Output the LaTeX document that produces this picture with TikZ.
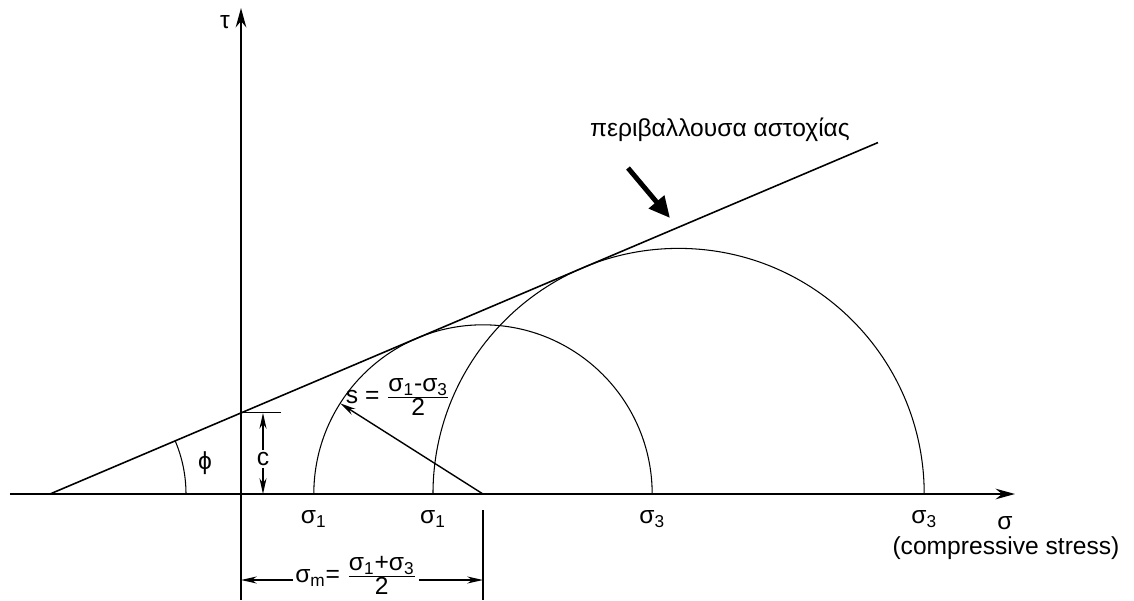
\documentclass[tikz,border=0pt]{standalone}
\usepackage{fontspec}
\setmainfont{Liberation Sans}
\usetikzlibrary{arrows.meta,calc}
\newcommand{\sg}[1]{σ\textsubscript{#1}}
\tikzset{
  axis/.style={line width=1.2pt,-{Stealth[length=11pt,width=6pt]}},
  env/.style={line width=0.9pt},
  mohr/.style={line width=0.6pt},
  dim/.style={line width=0.8pt,-{Stealth[length=9pt,width=4pt]}},
  bigarrow/.style={line width=2.8pt,-{Triangle[length=12pt,width=11pt]}},
  lbl/.style={font=\fontsize{14}{16}\selectfont,inner sep=1pt},
}
\begin{document}
\begin{tikzpicture}
\useasboundingbox (-4.82,-2.12) rectangle (17.86,9.88);
\pgfmathsetmacro\cc{3.82*tan(23)}
\pgfmathsetmacro\ra{sin(23)*(4.84+3.82)}
\pgfmathsetmacro\rb{sin(23)*(8.752+3.82)}
% axes
\coordinate (xs) at (-4.62,0); \coordinate (xe) at (15.48,0);
\coordinate (ys) at (0,-2.12); \coordinate (ye) at (0,9.72);
\draw[axis] (xs) -- (xe);
\draw[axis] (ys) -- (ye);
\node[lbl] (tau) at (-0.32,9.44) {τ};
\node[lbl] (sig) at (15.28,-0.58) {σ};
\node[lbl] (comp) at (15.3,-1.08) {(compressive stress)};
% failure envelope
\coordinate (F0) at (-3.82,0);
\coordinate (F1) at (12.74,{(12.74+3.82)*tan(23)});
\draw[env] (F0) -- (F1);
\node[lbl] (envlbl) at (9.58,7.28) {περιβαλλουσα αστοχίας};
\coordinate (envtail) at (7.74,6.52); \coordinate (envtip) at (8.58,5.52);
\draw[bigarrow] (envtail) -- (envtip);
% angle phi
\draw[mohr] ($(F0)+(2.72,0)$) arc[start angle=0,end angle=23,radius=2.72];
\node[lbl] (phi) at (-0.72,0.62) {ϕ};
% cohesion c
\coordinate (C) at (0,\cc); \coordinate (Ct) at (0.8,\cc);
\draw[mohr] (C) -- (Ct);
\coordinate (ct) at (0.44,\cc); \coordinate (cb) at (0.44,0);
\node[lbl] (clbl) at (0.44,0.7) {c};
\draw[dim] (clbl) -- (ct);
\draw[dim] (clbl) -- (cb);
% Mohr circles
\coordinate (M1) at (4.84,0); \coordinate (M2) at (8.752,0);
\draw[mohr] ($(M1)+(-\ra,0)$) arc[start angle=180,end angle=0,radius=\ra];
\draw[mohr] ($(M2)+(-\rb,0)$) arc[start angle=180,end angle=0,radius=\rb];
\node[lbl] (s1a) at ({4.84-\ra},-0.5) {\sg1};
\node[lbl] (s1b) at ({8.752-\rb},-0.5) {\sg1};
\node[lbl] (s3a) at ({4.84+\ra},-0.5) {\sg3};
\node[lbl] (s3b) at ({8.752+\rb},-0.5) {\sg3};
% radius s
\coordinate (S) at ($(M1)+(147.6:\ra)$);
\draw[dim] (M1) -- (S);
\node[lbl] (slbl) at (3.14,1.94) {s = $\frac{\mbox{\sg1-\sg3}}{\mbox{2}}$};
% centre sigma_m
\coordinate (mt) at (4.84,-0.32); \coordinate (mb) at (4.84,-2.12);
\draw[mohr] (mt) -- (mb);
\coordinate (ml) at (0,-1.72); \coordinate (mr) at (4.84,-1.72);
\node[lbl] (smlbl) at (2.3,-1.63) {\sg{m}= $\frac{\mbox{\sg1+\sg3}}{\mbox{2}}$};
\draw[dim] (smlbl.west |- ml) -- (ml);
\draw[dim] (smlbl.east |- mr) -- (mr);
\end{tikzpicture}
\end{document}
